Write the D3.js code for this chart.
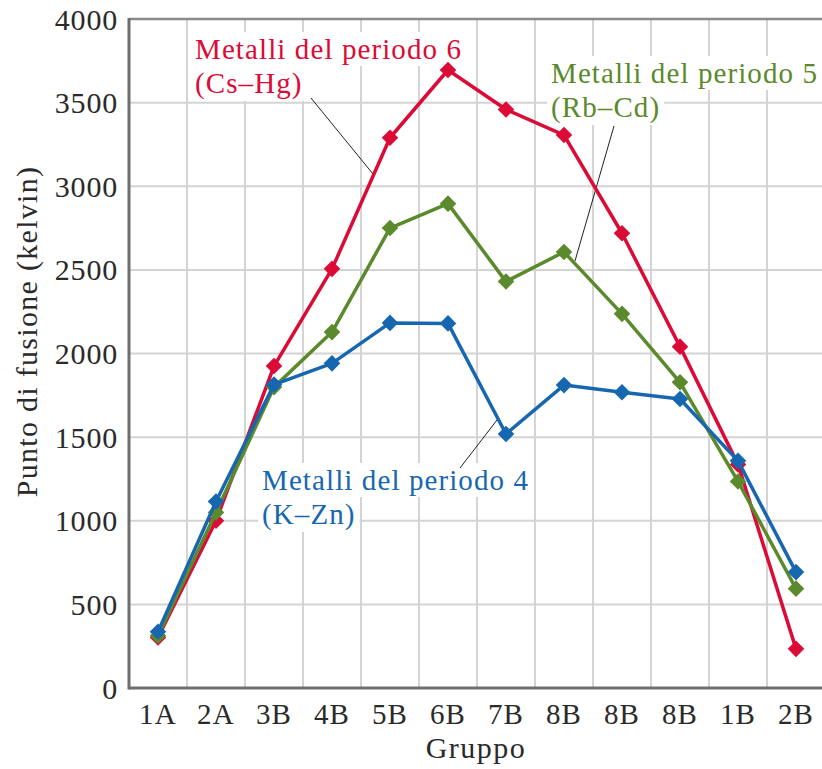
<!DOCTYPE html>
<html>
<head>
<meta charset="utf-8">
<script src="https://cdn.jsdelivr.net/npm/d3@7"></script>
<style>
  body { margin: 0; background: #fff; }
  svg { display: block; }
  text { font-family: "Liberation Serif", "DejaVu Serif", serif; }
</style>
</head>
<body>
<div id="chart"></div>
<script>
// group labels on the x axis
const groups = ["1A", "2A", "3B", "4B", "5B", "6B", "7B", "8B", "8B", "8B", "1B", "2B"];
// melting points (kelvin)
const period4 = [336, 1115, 1814, 1941, 2183, 2180, 1519, 1811, 1768, 1728, 1358, 693];
const period5 = [312, 1050, 1799, 2128, 2750, 2896, 2430, 2607, 2237, 1828, 1235, 594];
const period6 = [302, 1000, 1925, 2506, 3290, 3695, 3459, 3306, 2719, 2041, 1337, 234];
const yTicks = [0, 500, 1000, 1500, 2000, 2500, 3000, 3500, 4000];

const width = 822;
const height = 769;
const margin = { top: 19, right: -3, bottom: 81, left: 129 };

const svg = d3.select("#chart")
    .append("svg")
    .attr("width", width)
    .attr("height", height);

// one band per group, the index keeps the three 8B apart
const x = d3.scaleBand()
    .domain(d3.range(groups.length))
    .range([margin.left, width - margin.right])
    .padding(0);

const y = d3.scaleLinear()
    .domain([0, 4000])
    .range([height - margin.bottom, margin.top]);

const xc = (i) => x(i) + x.bandwidth() / 2;

// grid
const grid = svg.append("g").attr("stroke", "#d4d4d4").attr("stroke-width", 2);
grid.selectAll(".vg")
    .data(d3.range(1, groups.length))
    .enter().append("line")
    .attr("x1", (d) => x(d))
    .attr("x2", (d) => x(d))
    .attr("y1", y(4000))
    .attr("y2", y(0));
grid.selectAll(".hg")
    .data(yTicks.slice(1, -1))
    .enter().append("line")
    .attr("x1", margin.left)
    .attr("x2", width)
    .attr("y1", (d) => y(d))
    .attr("y2", (d) => y(d));

// labels with white boxes (they hide the grid behind them)
const labels = [
    { lines: ["Metalli del periodo 6", "(Cs\u2013Hg)"], color: "#dc0a36", x: 195, y: 59 },
    { lines: ["Metalli del periodo 5", "(Rb\u2013Cd)"], color: "#5b8a2c", x: 551, y: 83 },
    { lines: ["Metalli del periodo 4", "(K\u2013Zn)"], color: "#1767b0", x: 262, y: 490 }
];

// leader lines: from label to a point on the curve
const leaders = [
    { from: [311, 98], to: [373, 174] },
    { from: [614, 126], to: [575, 261] },
    { from: [460, 468], to: [497, 420] }
];

const labelG = svg.append("g");
labels.forEach((lb) => {
    const g = labelG.append("g");
    const t = g.append("text")
        .attr("fill", lb.color)
        .style("font-size", "29px")
        .style("letter-spacing", "1.1px");
    lb.lines.forEach((s, i) => {
        t.append("tspan")
            .attr("x", lb.x)
            .attr("y", lb.y + i * 34)
            .text(s);
    });
    // white box per line
    t.selectAll("tspan").each(function () {
        const b = this.getBBox();
        g.insert("rect", "text")
            .attr("x", b.x - 4)
            .attr("y", b.y - 1)
            .attr("width", b.width + 8)
            .attr("height", b.height + 2)
            .attr("fill", "#fff");
    });
});

svg.append("g")
    .selectAll("line")
    .data(leaders)
    .enter().append("line")
    .attr("x1", (d) => d.from[0])
    .attr("y1", (d) => d.from[1])
    .attr("x2", (d) => d.to[0])
    .attr("y2", (d) => d.to[1])
    .attr("stroke", "#222")
    .attr("stroke-width", 1);

// axes frame
svg.append("line")
    .attr("x1", margin.left).attr("x2", width)
    .attr("y1", y(4000)).attr("y2", y(4000))
    .attr("stroke", "#8a8a8a").attr("stroke-width", 2.5);
svg.append("line")
    .attr("x1", margin.left).attr("x2", margin.left)
    .attr("y1", y(4000) - 1).attr("y2", y(0) + 1.5)
    .attr("stroke", "#6e6e6e").attr("stroke-width", 3);
svg.append("line")
    .attr("x1", margin.left).attr("x2", width)
    .attr("y1", y(0)).attr("y2", y(0))
    .attr("stroke", "#6e6e6e").attr("stroke-width", 3);

// series
const series = [
    { values: period6, color: "#dc0a36" },
    { values: period5, color: "#5b8a2c" },
    { values: period4, color: "#1767b0" }
];

const line = d3.line()
    .x((d, i) => xc(i))
    .y((d) => y(d));

const diamond = d3.symbol().type(d3.symbolDiamond2).size(175);

series.forEach((s) => {
    const g = svg.append("g");
    g.append("path")
        .datum(s.values)
        .attr("d", line)
        .attr("fill", "none")
        .attr("stroke", s.color)
        .attr("stroke-width", 3.5)
        .attr("stroke-linejoin", "round");
    g.selectAll("path.m")
        .data(s.values)
        .enter().append("path")
        .attr("class", "m")
        .attr("d", diamond)
        .attr("transform", (d, i) => `translate(${xc(i)},${y(d)})`)
        .attr("fill", s.color);
});

// tick labels
svg.append("g")
    .selectAll("text")
    .data(yTicks)
    .enter().append("text")
    .attr("x", 118)
    .attr("y", (d) => y(d))
    .attr("dy", "0.35em")
    .attr("text-anchor", "end")
    .attr("fill", "#2a2a2a")
    .style("font-size", "30px")
    .style("letter-spacing", "0.8px")
    .text((d) => d);

svg.append("g")
    .selectAll("text")
    .data(groups)
    .enter().append("text")
    .attr("x", (d, i) => xc(i))
    .attr("y", 724)
    .attr("text-anchor", "middle")
    .attr("fill", "#2a2a2a")
    .style("font-size", "29px")
    .style("letter-spacing", "1.2px")
    .text((d) => d);

svg.append("text")
    .attr("x", 476)
    .attr("y", 758)
    .attr("text-anchor", "middle")
    .attr("fill", "#2a2a2a")
    .style("font-size", "30px")
    .style("letter-spacing", "1.5px")
    .text("Gruppo");

svg.append("text")
    .attr("transform", `translate(37,${(y(0) + y(4000)) / 2 - 22}) rotate(-90)`)
    .attr("text-anchor", "middle")
    .attr("fill", "#2a2a2a")
    .style("font-size", "30px")
    .style("letter-spacing", "1.3px")
    .text("Punto di fusione (kelvin)");
</script>
</body>
</html>
